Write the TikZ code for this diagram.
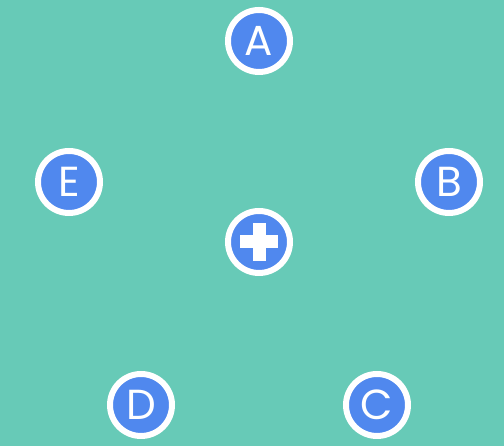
\documentclass[tikz,border=0pt]{standalone}
\usepackage{fontspec}
\setmainfont{Poppins}
\usepackage{tikz}
\usetikzlibrary{positioning}
\usepackage{xcolor}
\definecolor{bgteal}{RGB}{103,202,183}
\definecolor{dotblue}{RGB}{80,136,238}

\begin{document}
\begin{tikzpicture}[
    x=1pt, y=1pt,
    ball/.style={circle, draw=white, line width=6pt, fill=dotblue, minimum size=62pt, inner sep=0pt, text=white, font=\fontsize{42}{42}\selectfont},
    cross/.style={fill=white}
]
\fill[bgteal] (0,0) rectangle (504,446);
\useasboundingbox (0,0) rectangle (504,446);
\node[ball] (a) at (259,405) {A};
\node[ball] (e) at (69,264) {E};
\node[ball] (b) at (449,264) {B};
\node[ball] (add) at (259,204) {};
\node[ball] (d) at (141,41) {D};
\node[ball] (c) at (377,41) {C};

% plus sign inside the middle ball
\fill[cross] ([shift={(-19,-6.5)}]add.center) rectangle ([shift={(19,6.5)}]add.center);
\fill[cross] ([shift={(-6.5,-19)}]add.center) rectangle ([shift={(6.5,19)}]add.center);
\end{tikzpicture}
\end{document}
